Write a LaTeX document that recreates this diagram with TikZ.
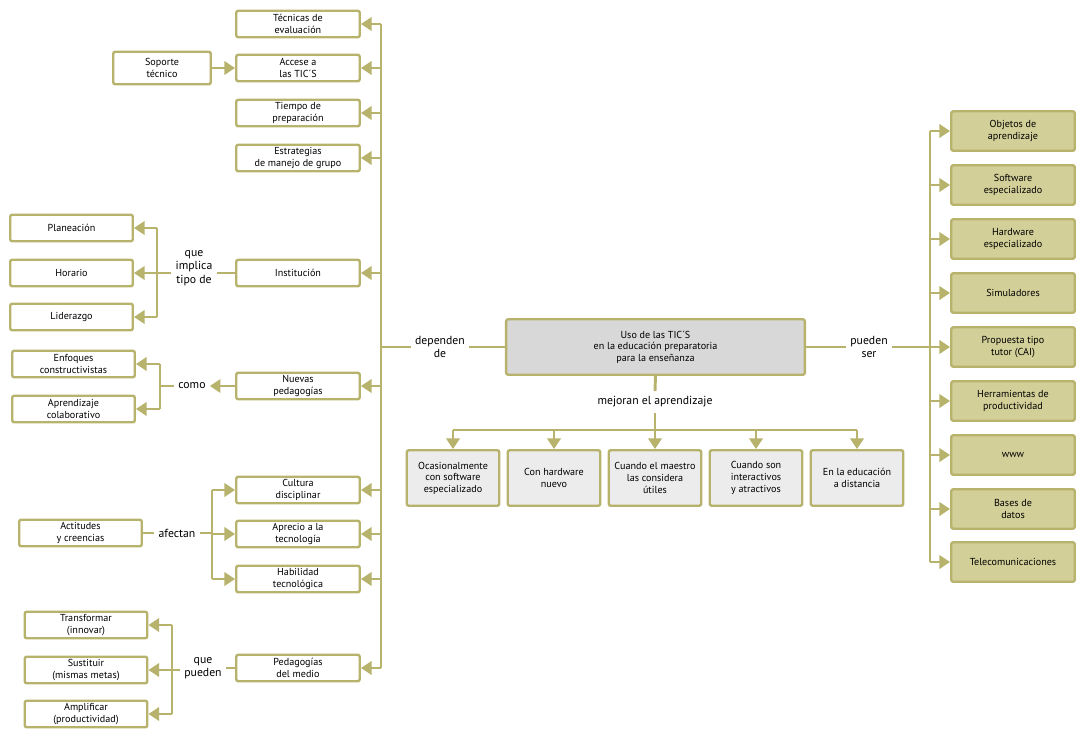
\documentclass[tikz,border=0pt]{standalone}
\usepackage{fontspec}
\setmainfont{PT Sans}
\usetikzlibrary{arrows.meta}
\definecolor{olive}{RGB}{183,179,109}
\definecolor{olivefill}{RGB}{211,207,152}
\definecolor{grayfill}{RGB}{216,216,216}
\definecolor{lightfill}{RGB}{236,236,236}
\begin{document}
\begin{tikzpicture}[x=0.75pt,y=-0.75pt,
	box/.style={draw=olive,line width=1.8pt,rounded corners=1.5pt,fill=white,align=center,
		inner sep=1pt,minimum width=92.6pt,minimum height=19.9pt,font=\fontsize{7.6}{8.7}\selectfont},
	sbox/.style={box,minimum width=91.9pt},
	rbox/.style={box,fill=olivefill,minimum height=29.6pt},
	bbox/.style={box,fill=lightfill,minimum width=69.4pt,minimum height=41.6pt},
	lbl/.style={align=center,inner sep=3pt,font=\fontsize{8.8}{10}\selectfont},
	ln/.style={draw=olive,line width=2.2pt},
	arr/.style={ln,-{Triangle[length=8pt,width=10pt]}}]
\useasboundingbox (0,0) rectangle (1089,743);
% left column
\node[box] (tec) at (298,24) {Técnicas de\\evaluación};
\node[box] (acc) at (298,68) {Accese a\\las TIC´S};
\node[box] (tie) at (298,113) {Tiempo de\\preparación};
\node[box] (est) at (298,158) {Estrategias\\de manejo de grupo};
\node[box] (ins) at (298,273) {Institución};
\node[box] (nue) at (298,386) {Nuevas\\pedagogías};
\node[box] (cul) at (298,490) {Cultura\\disciplinar};
\node[box] (apr) at (298,534) {Aprecio a la\\tecnología};
\node[box] (hab) at (298,579) {Habilidad\\tecnológica};
\node[box] (pme) at (298,668) {Pedagogías\\del medio};
% far left
\node[box,minimum width=73.1pt,minimum height=24.4pt] (sop) at (162,68) {Soporte\\técnico};
\node[sbox] (pla) at (71.5,228) {Planeación};
\node[sbox] (hor) at (71.5,273) {Horario};
\node[sbox] (lid) at (71.5,317) {Liderazgo};
\node[sbox] (enf) at (73.5,364) {Enfoques\\constructivistas};
\node[sbox] (apc) at (73.5,409) {Aprendizaje\\colaborativo};
\node[sbox] (act) at (80.5,533) {Actitudes\\y creencias};
\node[sbox] (tra) at (86,625) {Transformar\\(innovar)};
\node[sbox] (sus) at (86,670) {Sustituir\\(mismas metas)};
\node[sbox] (amp) at (86,714) {Amplificar\\(productividad)};
% centre
\node[box,fill=grayfill,minimum width=224pt,minimum height=41.6pt] (cen) at (655.5,347)
	{Uso de las TIC´S\\en la educación preparatoria\\para la enseñanza};
\node[bbox] (oca) at (453,478) {Ocasionalmente\\con software\\especializado};
\node[bbox] (con) at (554,478) {Con hardware\\nuevo};
\node[bbox] (cua) at (655,478) {Cuando el maestro\\las considera\\útiles};
\node[bbox] (son) at (756,478) {Cuando son\\interactivos\\y atractivos};
\node[bbox] (dis) at (857,478) {En la educación\\a distancia};
% right column
\node[rbox] (obj) at (1013,131) {Objetos de\\aprendizaje};
\node[rbox] (sof) at (1013,185) {Software\\especializado};
\node[rbox] (har) at (1013,239) {Hardware\\especializado};
\node[rbox] (sim) at (1013,293) {Simuladores};
\node[rbox] (pro) at (1013,347) {Propuesta tipo\\tutor (CAI)};
\node[rbox] (her) at (1013,401) {Herramientas de\\productividad};
\node[rbox] (www) at (1013,455) {www};
\node[rbox] (bas) at (1013,509) {Bases de\\datos};
\node[rbox] (tel) at (1013,562) {Telecomunicaciones};
% labels
\node[lbl] (implica) at (194,268) {que\\implica\\tipo de};
\node[lbl] (como) at (192,386) {como};
\node[lbl] (afectan) at (177,533) {afectan};
\node[lbl] (pueden) at (203,668) {que\\pueden};
\node[lbl] (dep) at (440,347) {dependen\\de};
\node[lbl] (ser) at (869,347) {pueden\\ser};
\node[lbl,inner sep=4pt] (mej) at (655,402) {mejoran el aprendizaje};
\coordinate (tL) at (381,0);
\coordinate (tR) at (930,0);
\coordinate (bI) at (157,0);
\coordinate (bC) at (160,0);
\coordinate (bA) at (212,0);
\coordinate (bP) at (172,0);
\coordinate (hB) at (0,430);
% trunk to the left
\draw[ln] (tec.east -| tL) -- (pme.east -| tL);
\foreach \b in {tec,acc,tie,est,ins,nue,cul,apr,hab,pme}
	\draw[arr] (\b.east -| tL) -- (\b.east);
\draw[ln] (cen.west -| tL) -- (cen.west -| dep.west);
\draw[ln] (cen.west -| dep.east) -- (cen.west);
\draw[arr] (sop.east) -- (acc.west);
% que implica
\draw[ln] (ins.west) -- (ins.west -| implica.east);
\draw[ln] (hor.east -| implica.west) -- (hor.east -| bI);
\draw[ln] (pla.east -| bI) -- (lid.east -| bI);
\foreach \b in {pla,hor,lid}
	\draw[arr] (\b.east -| bI) -- (\b.east);
% como
\draw[arr] (nue.west) -- (como.east);
\draw[ln] (como.west) -- (como.west -| bC);
\draw[ln] (enf.east -| bC) -- (apc.east -| bC);
\foreach \b in {enf,apc}
	\draw[arr] (\b.east -| bC) -- (\b.east);
% afectan
\draw[ln] (act.east) -- (afectan.west);
\draw[ln] (afectan.east) -- (afectan.east -| bA);
\draw[ln] (cul.west -| bA) -- (hab.west -| bA);
\foreach \b in {cul,apr,hab}
	\draw[arr] (\b.west -| bA) -- (\b.west);
% que pueden
\draw[ln] (pme.west) -- (pme.west -| pueden.east);
\draw[ln] (sus.east -| pueden.west) -- (sus.east -| bP);
\draw[ln] (tra.east -| bP) -- (amp.east -| bP);
\foreach \b in {tra,sus,amp}
	\draw[arr] (\b.east -| bP) -- (\b.east);
% pueden ser
\draw[ln] (cen.east) -- (cen.east -| ser.west);
\draw[ln] (cen.east -| ser.east) -- (cen.east -| tR);
\draw[ln] (obj.west -| tR) -- (tel.west -| tR);
\foreach \b in {obj,sof,har,sim,pro,her,www,bas,tel}
	\draw[arr] (\b.west -| tR) -- (\b.west);
% mejoran
\draw[ln] (cen.south) -- (mej.north);
\draw[ln] (mej.south) -- (mej.south |- hB);
\draw[ln] (oca.north |- hB) -- (dis.north |- hB);
\foreach \b in {oca,con,cua,son,dis}
	\draw[arr] (\b.north |- hB) -- (\b.north);
\end{tikzpicture}
\end{document}
